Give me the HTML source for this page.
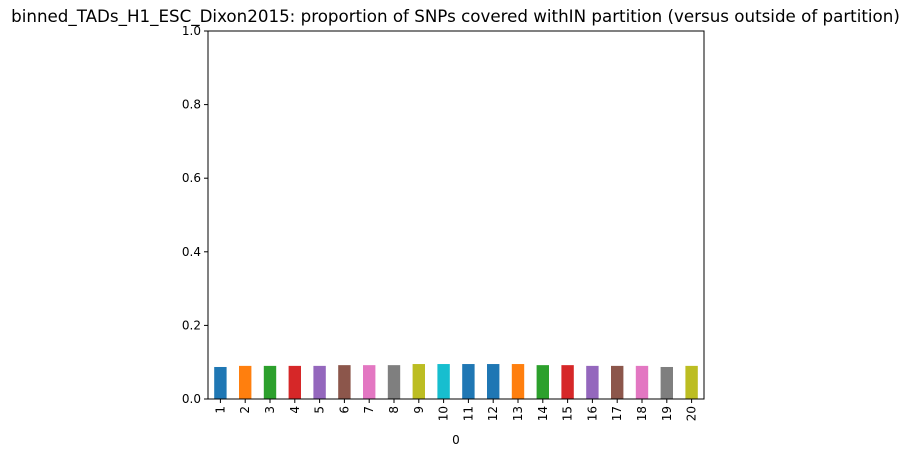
<!DOCTYPE html>
<html><head><meta charset="utf-8"><style>
body{margin:0;background:#fff;}
svg{display:block;font-family:"DejaVu Sans","Liberation Sans",sans-serif;}
</style></head><body>
<svg id="chart" width="911" height="456">
<text x="455.5" y="22" font-size="16.7" text-anchor="middle" fill="#000">binned_TADs_H1_ESC_Dixon2015: proportion of SNPs covered withIN partition (versus outside of partition)</text>
<g id="bars"></g><g id="axes"></g>
<rect x="208" y="31" width="496" height="368" fill="none" stroke="#000" stroke-width="1"/>
<text x="456" y="444" font-size="12" text-anchor="middle">0</text>
</svg>
<script>
const categories=["1","2","3","4","5","6","7","8","9","10","11","12","13","14","15","16","17","18","19","20"];
const values=[0.087,0.090,0.090,0.090,0.090,0.092,0.092,0.092,0.095,0.095,0.095,0.095,0.095,0.092,0.092,0.090,0.090,0.090,0.087,0.090];
const yTicks=[0,0.2,0.4,0.6,0.8,1.0];
const yTickLabels=["0.0","0.2","0.4","0.6","0.8","1.0"];
const barColors=["#1f77b4","#ff7f0e","#2ca02c","#d62728","#9467bd","#8c564b","#e377c2","#7f7f7f","#bcbd22","#17becf","#1f77b4","#1f77b4","#ff7f0e","#2ca02c","#d62728","#9467bd","#8c564b","#e377c2","#7f7f7f","#bcbd22"];
const L=208,R=704,T=31,B=399;
const ns="http://www.w3.org/2000/svg";
const slot=(R-L)/categories.length;
const xC=i=>L+slot*(i+0.5);
const y=v=>B-(v-0)/(1-0)*(B-T);
const bars=document.getElementById('bars'),axes=document.getElementById('axes');
values.forEach((v,i)=>{
  const r=document.createElementNS(ns,'rect');
  r.setAttribute('x',xC(i)-slot*0.25);r.setAttribute('width',slot*0.5);
  r.setAttribute('y',y(v));r.setAttribute('height',B-y(v));
  r.setAttribute('fill',barColors[i%barColors.length]);
  
  
  bars.appendChild(r);
  const t=document.createElementNS(ns,'line');
  t.setAttribute('x1',xC(i));t.setAttribute('x2',xC(i));t.setAttribute('y1',B);t.setAttribute('y2',B+4);t.setAttribute('stroke','#000');
  
  
  axes.appendChild(t);
  const lb=document.createElementNS(ns,'text');
  lb.setAttribute('transform','translate('+(xC(i)+4)+','+(B+7)+') rotate(-90)');
  lb.setAttribute('text-anchor','end');lb.setAttribute('font-size','12');
  lb.textContent=categories[i];
  
  
  axes.appendChild(lb);
});
yTicks.forEach((v,i)=>{
  const t=document.createElementNS(ns,'line');
  t.setAttribute('x1',L-4);t.setAttribute('x2',L);t.setAttribute('y1',y(v));t.setAttribute('y2',y(v));t.setAttribute('stroke','#000');
  
  
  axes.appendChild(t);
  const lb=document.createElementNS(ns,'text');
  lb.setAttribute('x',L-7);lb.setAttribute('y',y(v)+4);lb.setAttribute('text-anchor','end');lb.setAttribute('font-size','12');
  lb.textContent=yTickLabels[i];
  
  
  axes.appendChild(lb);
});
</script>
</body></html>
